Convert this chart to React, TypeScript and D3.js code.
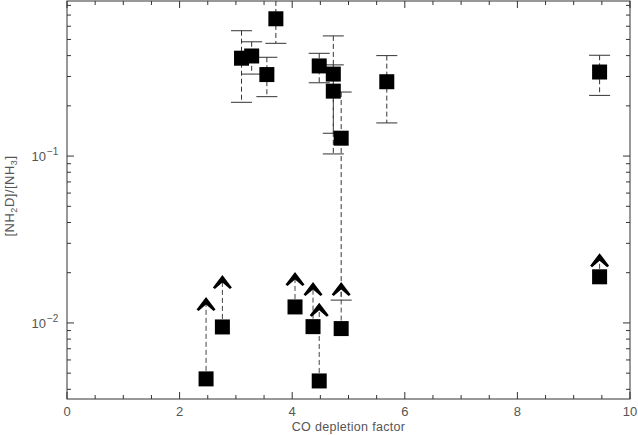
import React from "react";
import * as d3 from "d3";

// Detections with error bars
const detX = [3.1, 3.28, 3.55, 3.71, 4.48, 4.73, 4.73, 4.87, 5.68, 9.46];
const detY = [0.386, 0.398, 0.308, 0.665, 0.347, 0.31, 0.245, 0.128, 0.279, 0.319];
const detHi = [0.564, 0.484, 0.391, 0.95, 0.413, 0.525, 0.352, 0.242, 0.4, 0.402];
const detLo = [0.21, 0.31, 0.227, 0.474, 0.275, 0.103, 0.137, 0.0137, 0.158, 0.231];

// Lower limits (arrows)
const limX = [2.47, 2.76, 4.05, 4.37, 4.48, 4.87, 9.46];
const limY = [0.00462, 0.00946, 0.01247, 0.0095, 0.00449, 0.00925, 0.0189];
const limArrow = [0.0143, 0.0194, 0.0202, 0.0176, 0.0132, 0.0176, 0.0262];

const xMajor = [0, 2, 4, 6, 8, 10];
const xMinor = d3.range(0, 10.01, 0.5);
const yMajor = [0.01, 0.1];
const yMinor = [0.004, 0.005, 0.006, 0.007, 0.008, 0.009, 0.02, 0.03, 0.04, 0.05, 0.06, 0.07, 0.08, 0.09, 0.2, 0.3, 0.4, 0.5, 0.6, 0.7, 0.8];
const yMajorExp = ["−2", "−1"];

const W = 638, H = 435;
const L = 67, R = 630, T = 1, B = 399;

export default function App() {
  const x = d3.scaleLinear().domain([0, 10]).range([L, R]);
  const y = d3.scaleLog().domain([0.0035, 0.85]).range([B, T]);
  const ax = "#333";
  const font = "'Liberation Sans', Arial, sans-serif";
  const sq = 15;
  const cap = 10.5;
  const arrowPath = "M0,0 L9.5,12.5 L7.5,14 L0,7.5 L-7.5,14 L-9.5,12.5 Z";
  return (
    <svg width={W} height={H} style={{ position: "absolute", left: 0, top: 0, background: "#fff" }}>
      <defs>
        <clipPath id="plot">
          <rect x={L} y={T} width={R - L} height={B - T} />
        </clipPath>
      </defs>
      {/* frame */}
      <rect x={L} y={T} width={R - L} height={B - T} fill="none" stroke={ax} strokeWidth={1} />
      {/* x ticks */}
      {xMinor.map((v, i) => {
        const major = xMajor.some((m) => Math.abs(m - v) < 1e-6);
        const len = major ? 7 : 4;
        return (
          <g key={"xt" + i} stroke={ax} strokeWidth={1}>
            <line x1={x(v)} x2={x(v)} y1={B} y2={B - len} />
            <line x1={x(v)} x2={x(v)} y1={T} y2={T + len} />
          </g>
        );
      })}
      {xMajor.map((v) => (
        <text key={"xl" + v} x={x(v)} y={416} textAnchor="middle" fontFamily={font} fontSize={13} fill="#555">
          {v}
        </text>
      ))}
      <text x={(L + R) / 2} y={431} textAnchor="middle" fontFamily={font} fontSize={12.5} fill="#555" letterSpacing={0.3}>
        CO depletion factor
      </text>
      {/* y ticks */}
      {yMajor.map((v) => (
        <g key={"ym" + v} stroke={ax} strokeWidth={1}>
          <line x1={L} x2={L + 7} y1={y(v)} y2={y(v)} />
          <line x1={R} x2={R - 7} y1={y(v)} y2={y(v)} />
        </g>
      ))}
      {yMinor.map((v) => (
        <g key={"yn" + v} stroke={ax} strokeWidth={1}>
          <line x1={L} x2={L + 4} y1={y(v)} y2={y(v)} />
          <line x1={R} x2={R - 4} y1={y(v)} y2={y(v)} />
        </g>
      ))}
      {yMajor.map((v, i) => (
        <text key={"yl" + v} x={46} y={y(v) + 5} textAnchor="end" fontFamily={font} fontSize={13} fill="#555">
          10
          <tspan x={47} dy={-6} textAnchor="start" fontSize={10} fill="#555">
            {yMajorExp[i]}
          </tspan>
        </text>
      ))}
      <text
        transform={`translate(14,${196}) rotate(-90)`}
        textAnchor="middle"
        fontFamily={font}
        fontSize={13}
        fill="#555"
        letterSpacing={0.5}
      >
        [NH<tspan fontSize={9} dy={3}>2</tspan>
        <tspan dy={-3}>D]/[NH</tspan>
        <tspan fontSize={9} dy={3}>3</tspan>
        <tspan dy={-3}>]</tspan>
      </text>
      <g clipPath="url(#plot)">
        {/* error bars */}
        {detX.map((v, i) => (
          <g key={"eb" + i} stroke={ax} strokeWidth={1}>
            <line x1={x(v)} x2={x(v)} y1={y(detHi[i])} y2={y(detLo[i])} strokeDasharray="5,3" />
            <line x1={x(v) - cap} x2={x(v) + cap} y1={y(detHi[i])} y2={y(detHi[i])} />
            <line x1={x(v) - cap} x2={x(v) + cap} y1={y(detLo[i])} y2={y(detLo[i])} />
          </g>
        ))}
        {/* lower limit lines */}
        {limX.map((v, i) => (
          <g key={"ll" + i}>
            <line
              x1={x(v)}
              x2={x(v)}
              y1={y(limY[i])}
              y2={y(limArrow[i]) + 7}
              stroke="#444"
              strokeWidth={1}
              strokeDasharray="5,3"
            />
            <path d={arrowPath} transform={`translate(${x(v)},${y(limArrow[i])})`} fill="#000" />
          </g>
        ))}
        {detX.map((v, i) => (
          <rect key={"ds" + i} x={x(v) - sq / 2} y={y(detY[i]) - sq / 2} width={sq} height={sq} fill="#000" />
        ))}
        {limX.map((v, i) => (
          <rect key={"ls" + i} x={x(v) - sq / 2} y={y(limY[i]) - sq / 2} width={sq} height={sq} fill="#000" />
        ))}
      </g>
    </svg>
  );
}
